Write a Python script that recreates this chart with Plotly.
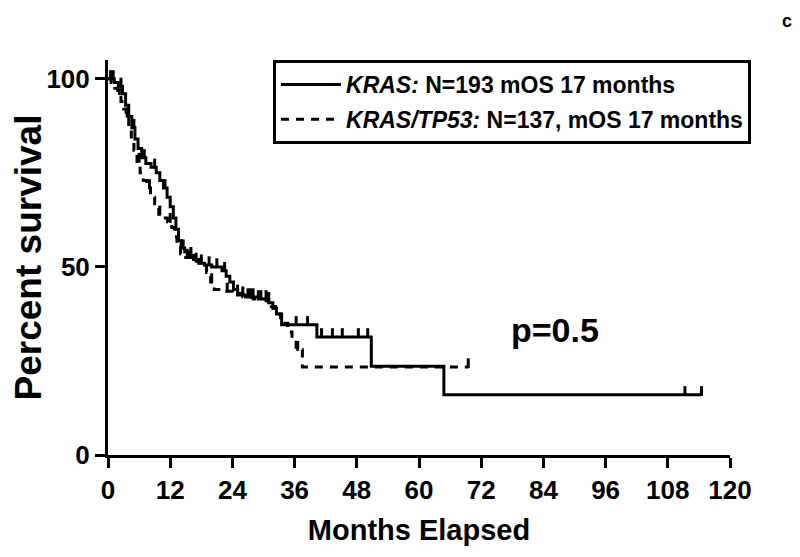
import numpy as np
import plotly.graph_objects as go

# ---- data ----
kras_t = [0, 1.2, 2.0, 2.8, 3.4, 4.0, 4.6, 5.2, 5.8, 6.5, 7.3, 8.3, 9.3, 10.0, 10.7, 11.4, 12.0,
          12.6, 13.1, 13.6, 14.1, 14.8, 15.6, 16.5, 17.5, 18.6, 20.0, 22.0, 22.8, 23.5, 24.2, 25.0,
          26.5, 29.0, 31.0, 31.8, 32.5, 33.5, 40.3, 50.8, 64.8, 114.5]
kras_s = [100, 99, 98, 96, 93, 90, 87, 84, 81.5, 79, 77.5, 76.5, 75, 73, 71, 68.5, 66,
          63, 60, 57, 55, 54, 53, 52, 51, 50.5, 50, 49, 47.5, 46, 44, 42.5,
          42, 41.5, 40.5, 39, 37.5, 34.6, 31.4, 23.6, 16, 16]
kras_cens = [1, 2.5, 5, 7, 9, 11, 14.5, 16, 18, 19.5, 21, 22.5, 26, 27, 28, 29, 30.5,
             36.3, 38.5, 41.2, 43.3, 45.2, 48.3, 50.1, 111.3, 114.5]

tp53_t = [0, 0.6, 1.3, 1.9, 2.5, 3.0, 3.5, 4.0, 4.5, 5.0, 5.6, 6.2, 6.8, 7.5, 8.2, 9.0, 9.8,
          10.6, 11.5, 12.3, 12.8, 13.3, 14.0, 15.0, 16.5, 18.0, 19.0, 19.8, 20.5, 22.5, 24.0,
          26.0, 28.0, 30.5, 31.5, 32.3, 33.3, 34.7, 35.5, 36.3, 37.5, 69.5]
tp53_s = [100, 99, 97.5, 96, 94, 92, 90, 87, 84, 81, 78, 75, 73, 71, 68.5, 66, 64,
          63, 62, 60.5, 58, 55.5, 53.5, 52.5, 51.5, 50.5, 48.5, 46, 44, 43.5, 43,
          42, 41.5, 41, 39.5, 37.5, 35, 32.7, 31, 28, 23.4, 23.4]
tp53_cens = [0.5, 2.2, 3.7, 6, 8, 10, 12, 15.3, 17, 20, 23, 25, 27.5, 29.5, 31, 36.6, 69.5]

x_ticks = [0, 12, 24, 36, 48, 60, 72, 84, 96, 108, 120]
y_ticks = [0, 50, 100]

names = ["<b><i>KRAS:</i> N=193 mOS 17 months</b>",
         "<b><i>KRAS/TP53:</i> N=137, mOS 17 months</b>"]


def surv_at(t, s, ct):
    t = np.asarray(t)
    s = np.asarray(s)
    idx = np.searchsorted(t, np.asarray(ct), side="right") - 1
    return s[idx]


TICK_OFF = 1.0  # censor ticks drawn just above the curve
FONT = "Liberation Sans, Arial"

fig = go.Figure()
series = [(kras_t, kras_s, kras_cens, "solid", names[0]),
          (tp53_t, tp53_s, tp53_cens, "8px,7px", names[1])]
for i, (t, s, c, dash, nm) in enumerate(series):
    fig.add_trace(go.Scatter(x=t, y=s, mode="lines", line_shape="hv",
                             line=dict(color="black", width=3, dash=dash),
                             name=nm, legendgroup=str(i)))
    cy = surv_at(t, s, c) + TICK_OFF
    fig.add_trace(go.Scatter(x=c, y=cy, mode="markers", showlegend=False,
                             legendgroup=str(i), cliponaxis=False,
                             marker=dict(symbol="line-ns", size=7,
                                         line=dict(color="black", width=3))))

fig.add_annotation(x=86.2, y=33.2, xref="x", yref="y", text="<b>p=0.5</b>",
                   showarrow=False, font=dict(size=34, color="black", family=FONT))
fig.add_annotation(x=1.0916, y=1.126, xref="paper", yref="paper", text="<b>c</b>",
                   showarrow=False, xanchor="center", yanchor="top", borderpad=0,
                   font=dict(size=18, color="black", family=FONT))

fig.update_layout(
    width=800, height=557,
    margin=dict(l=100, r=78, t=52, b=110),
    paper_bgcolor="white", plot_bgcolor="white",
    font=dict(family=FONT, color="black"),
    legend=dict(x=0.2653, y=1.0, xanchor="left", yanchor="top",
                bordercolor="black", borderwidth=3, bgcolor="white",
                itemwidth=60,
                font=dict(size=23, color="black", family=FONT),
                tracegroupgap=2),
    xaxis=dict(range=[0, 120], tickvals=x_ticks, ticktext=[str(v) for v in x_ticks],
               showline=True, linecolor="black", linewidth=3,
               ticks="outside", ticklen=10, tickwidth=3, tickcolor="black",
               showgrid=False, zeroline=False, automargin=False,
               tickfont=dict(size=26, family=FONT, weight="bold"),
               title=dict(text="<b>Months Elapsed</b>", standoff=16,
                          font=dict(size=29, family=FONT))),
    yaxis=dict(range=[0, 105], tickvals=y_ticks,
               showline=True, linecolor="black", linewidth=3,
               ticks="outside", ticklen=10, tickwidth=3, tickcolor="black",
               showgrid=False, zeroline=False, automargin=False,
               tickfont=dict(size=26, family=FONT, weight="bold"),
               title=dict(text="<b>Percent survival</b>", standoff=0,
                          font=dict(size=37, family=FONT))),
)

fig.write_html("out.html")
